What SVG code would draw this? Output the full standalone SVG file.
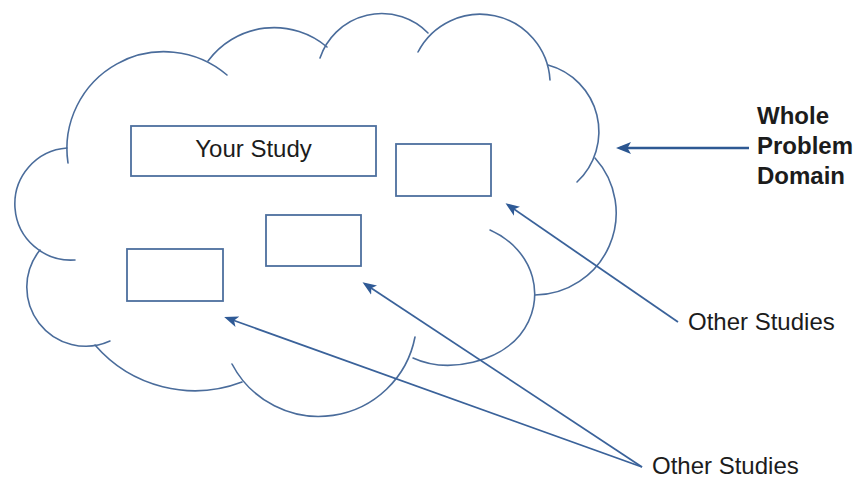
<svg xmlns="http://www.w3.org/2000/svg" width="854" height="478" viewBox="0 0 854 478">
<style>
.cloud{fill:none;stroke:#4a6c9b;stroke-width:1.6;stroke-linecap:round}
.box{fill:#fff;stroke:#4d6f9e;stroke-width:1.8}
.conn{fill:none;stroke:#3a629a;stroke-width:1.8}
.thick{fill:none;stroke:#2e5993;stroke-width:2.6}
.lbl{font-family:"Liberation Sans",Arial,sans-serif;font-size:24px;fill:#1c1c1c}
.bold{font-weight:bold}
</style>
<defs>
<marker id="ah" markerUnits="userSpaceOnUse" viewBox="0 0 14 12" refX="11" refY="6" markerWidth="14" markerHeight="12" orient="auto">
<path d="M14,6 L0,0.5 L3.5,6 L0,11.5 Z" fill="#2f5a96"/>
</marker>
<marker id="ahb" markerUnits="userSpaceOnUse" viewBox="0 0 15 13" refX="11" refY="6.5" markerWidth="15" markerHeight="13" orient="auto">
<path d="M15,6.5 L0,0.5 L3.5,6.5 L0,12.5 Z" fill="#2b5690"/>
</marker>
</defs>
<g id="cloud">
<path class="cloud" d="M68,163 A97,97 0 0 1 227,75"/>
<path class="cloud" d="M208,61 A82,82 0 0 1 327,47"/>
<path class="cloud" d="M320,58 A65,65 0 0 1 428,33"/>
<path class="cloud" d="M418,52 A70,70 0 0 1 550,80"/>
<path class="cloud" d="M548,65 A69,69 0 0 1 577,182"/>
<path class="cloud" d="M595,158 A82,82 0 0 1 535,295"/>
<path class="cloud" d="M490,230 C535,250 548,300 520,335 C500,360 450,375 413,358"/>
<path class="cloud" d="M415,337 A98,98 0 0 1 232,364"/>
<path class="cloud" d="M242,382 A132,132 0 0 1 95,345"/>
<path class="cloud" d="M110,341 A59,59 0 0 1 40,250"/>
<path class="cloud" d="M75,260 A56,56 0 0 1 67,148"/>
</g>
<g id="your-study">
<rect class="box" x="131" y="126" width="245" height="50"/>
<text class="lbl" x="253.5" y="157" text-anchor="middle">Your Study</text>
</g>
<g id="study-2"><rect class="box" x="396" y="144" width="95" height="52"/></g>
<g id="study-3"><rect class="box" x="266" y="215" width="95" height="51"/></g>
<g id="study-4"><rect class="box" x="127" y="249" width="96" height="52"/></g>
<g id="label-whole">
<text class="lbl bold" x="757" y="124">Whole</text>
<text class="lbl bold" x="757" y="154">Problem</text>
<text class="lbl bold" x="757" y="184">Domain</text>
</g>
<g id="label-other-1"><text class="lbl" x="688" y="330">Other Studies</text></g>
<g id="label-other-2"><text class="lbl" x="652" y="474">Other Studies</text></g>
<g id="connectors">
<line class="thick" x1="749" y1="148" x2="620" y2="148" marker-end="url(#ahb)"/>
<line class="conn" x1="678" y1="322" x2="508" y2="205" marker-end="url(#ah)"/>
<line class="conn" x1="642" y1="467" x2="365" y2="284" marker-end="url(#ah)"/>
<line class="conn" x1="642" y1="467" x2="227" y2="318" marker-end="url(#ah)"/>
</g>
</svg>
